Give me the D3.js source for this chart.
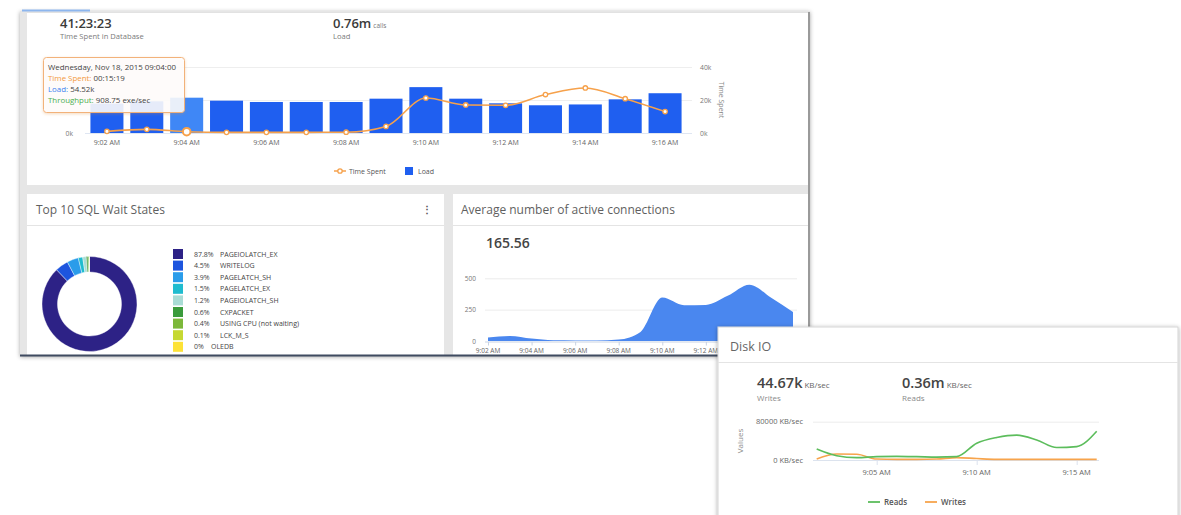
<!DOCTYPE html>
<html><head><meta charset="utf-8">
<script src="https://cdn.jsdelivr.net/npm/d3@7"></script>
<style>
html,body{margin:0;padding:0;background:#fff;}
svg{display:block;font-family:"Open Sans","Noto Sans",sans-serif;}
</style></head>
<body>
<svg id="c" width="1181" height="515"></svg>
<script>
// ---------- DATA ----------
const minutes = ["9:02","9:03","9:04","9:05","9:06","9:07","9:08","9:09","9:10","9:11","9:12","9:13","9:14","9:15","9:16"];
const loadK = [17.8, 19.2, 21.4, 19.6, 18.8, 18.8, 18.8, 20.8, 27.8, 20.8, 18.0, 16.8, 17.3, 20.4, 24.1];
const timeSpentK = [1.0, 2.2, 0.8, 0.4, 0.4, 0.4, 0.5, 4.0, 21.2, 17.0, 16.8, 23.3, 27.3, 20.8, 13.0];
const topTicks = [0, 20, 40];
const loadAxisTicks = [0];
const waitNames = ["PAGEIOLATCH_EX","WRITELOG","PAGELATCH_SH","PAGELATCH_EX","PAGEIOLATCH_SH","CXPACKET","USING CPU (not waiting)","LCK_M_S","OLEDB"];
const waitPct = [87.8, 4.5, 3.9, 1.5, 1.2, 0.6, 0.4, 0.1, 0];
const waitColors = ["#2d2286","#1d55de","#2a9cea","#1fbccf","#a9dcd5","#3a9b3c","#7cb83a","#c6d832","#fde236"];
const connections = [27, 40, 19, 5, 4, 4, 11, 72, 346, 285, 288, 360, 449, 345, 232];
const connTicks = [0, 250, 500];
const connXLabels = ["9:02","9:04","9:06","9:08","9:10","9:12"];
const diskReads = [23000, 9000, 5000, 7000, 7600, 7000, 6000, 7000, 35000, 47000, 52000, 42000, 26000, 28000, 60000];
const diskWrites = [2000, 12500, 12000, 2000, 1400, 1400, 2000, 5000, 3000, 1400, 1400, 1400, 1400, 1400, 1400];
const diskTicks = [0, 80000];
const diskXTicks = ["9:05","9:10","9:15"];

// ---------- HELPERS ----------
const svg = d3.select("#c");
const idx = d3.range(minutes.length);
const defs = svg.append("defs");
const sh = defs.append("filter").attr("id","shadow").attr("x","-5%").attr("y","-5%").attr("width","110%").attr("height","115%");
sh.append("feDropShadow").attr("dx",0).attr("dy",1).attr("stdDeviation",2).attr("flood-color","#000").attr("flood-opacity",0.35);
const sh2 = defs.append("filter").attr("id","tipshadow").attr("x","-10%").attr("y","-10%").attr("width","120%").attr("height","130%");
sh2.append("feDropShadow").attr("dx",0).attr("dy",1).attr("stdDeviation",1.5).attr("flood-color","#e08a3c").attr("flood-opacity",0.35);
function clip(id,x,y,w,h){defs.append("clipPath").attr("id",id).append("rect").attr("x",x).attr("y",y).attr("width",w).attr("height",h);}

svg.append("rect").attr("width",1181).attr("height",515).attr("fill","#fff");

// ---------- WINDOW FRAME ----------
const win = svg.append("g");
win.append("rect").attr("x",20).attr("y",11).attr("width",790).attr("height",345).attr("fill","#e6e6e6").attr("filter","url(#shadow)");
win.append("rect").attr("x",22).attr("y",9.5).attr("width",68).attr("height",2).attr("fill","#8db6ee");
win.append("rect").attr("x",27).attr("y",12).attr("width",781).attr("height",173).attr("fill","#fff");
win.append("line").attr("x1",27).attr("x2",808).attr("y1",12.5).attr("y2",12.5).attr("stroke","#e2e2e2");
win.append("rect").attr("x",27).attr("y",194).attr("width",417).attr("height",161).attr("fill","#fff");
win.append("rect").attr("x",453).attr("y",194).attr("width",355).attr("height",161).attr("fill","#fff");
win.append("line").attr("x1",27).attr("x2",444).attr("y1",225.5).attr("y2",225.5).attr("stroke","#e4e4e4");
win.append("line").attr("x1",453).attr("x2",808).attr("y1",225.5).attr("y2",225.5).attr("stroke","#e4e4e4");
win.append("line").attr("x1",809).attr("x2",809).attr("y1",12).attr("y2",356).attr("stroke","#9a9a9a").attr("stroke-width",2);

// ---------- TOP KPI ----------
const kpiTop = svg.append("g");
kpiTop.append("text").attr("x",60).attr("y",28).attr("font-size",13).attr("font-weight",600).attr("fill","#3a3a3a").text("41:23:23");
kpiTop.append("text").attr("x",60).attr("y",38.5).attr("font-size",7.6).attr("fill","#7a7a7a").text("Time Spent in Database");
const lt = kpiTop.append("text").attr("x",333).attr("y",28).attr("fill","#3a3a3a");
lt.append("tspan").attr("font-size",13).attr("font-weight",600).text("0.76m");
lt.append("tspan").attr("font-size",6.5).attr("fill","#777").attr("dx",2).text("calls");
kpiTop.append("text").attr("x",333).attr("y",38.5).attr("font-size",7.6).attr("fill","#7a7a7a").text("Load");

// ---------- TOP CHART ----------
const xb = d3.scaleBand().domain(minutes).range([87,685]).paddingInner(0.172).paddingOuter(0.086);
const yt = d3.scaleLinear().domain([0,40]).range([133,67]);
const tc = svg.append("g");
tc.selectAll("line.g").data(topTicks).join("line").attr("x1",85).attr("x2",692)
  .attr("y1",d=>yt(d)+0.5).attr("y2",d=>yt(d)+0.5).attr("stroke",d=>d===0?"#dfe6f2":"#eeeeee");
tc.selectAll("text.r").data(topTicks).join("text").attr("x",700).attr("y",d=>yt(d)+2.5)
  .attr("font-size",6.8).attr("fill","#777").text(d=>d+"k");
tc.selectAll("text.l").data(loadAxisTicks).join("text").attr("x",73).attr("y",d=>yt(d)+2.5).attr("text-anchor","end")
  .attr("font-size",6.8).attr("fill","#777").text(d=>d+"k");
tc.append("text").attr("transform","translate(719,100) rotate(90)").attr("text-anchor","middle")
  .attr("font-size",7).attr("fill","#888").text("Time Spent");
tc.selectAll("rect.bar").data(idx).join("rect").attr("class","bar")
  .attr("x",i=>xb(minutes[i])).attr("width",xb.bandwidth())
  .attr("y",i=>yt(loadK[i])).attr("height",i=>yt(0)-yt(loadK[i]))
  .attr("fill",i=>i===2?"#3f87f6":"#1f5ff0");
tc.selectAll("text.x").data(idx.filter(i=>i%2===0)).join("text")
  .attr("x",i=>xb(minutes[i])+xb.bandwidth()/2).attr("y",145).attr("text-anchor","middle")
  .attr("font-size",7).attr("fill","#666").text(i=>minutes[i]+" AM");
const lineT = d3.line().x(i=>xb(minutes[i])+xb.bandwidth()/2).y(i=>yt(timeSpentK[i])).curve(d3.curveMonotoneX);
tc.append("path").attr("d",lineT(idx)).attr("fill","none").attr("stroke","#f6a14b").attr("stroke-width",1.6);
tc.selectAll("circle").data(idx).join("circle")
  .attr("cx",i=>xb(minutes[i])+xb.bandwidth()/2).attr("cy",i=>yt(timeSpentK[i]))
  .attr("r",i=>i===2?3.8:2.2).attr("fill","#fff").attr("stroke","#f6a14b").attr("stroke-width",i=>i===2?2:1.3);
// legend
const lg = svg.append("g");
lg.append("line").attr("x1",334).attr("x2",346).attr("y1",171).attr("y2",171).attr("stroke","#f6a14b").attr("stroke-width",1.5);
lg.append("circle").attr("cx",340).attr("cy",171).attr("r",2.2).attr("fill","#fff").attr("stroke","#f6a14b").attr("stroke-width",1.3);
lg.append("text").attr("x",349).attr("y",173.5).attr("font-size",7).attr("fill","#555").text("Time Spent");
lg.append("rect").attr("x",405).attr("y",167).attr("width",8).attr("height",8).attr("fill","#1f5ff0");
lg.append("text").attr("x",418).attr("y",173.5).attr("font-size",7).attr("fill","#555").text("Load");
// tooltip
const tip = svg.append("g");
tip.append("rect").attr("x",43.5).attr("y",57.5).attr("width",141).attr("height",55).attr("rx",3)
  .attr("fill","#fff").attr("fill-opacity",0.85).attr("stroke","#f2b27a").attr("stroke-width",1).attr("filter","url(#tipshadow)");
const tipLines = [["","Wednesday, Nov 18, 2015 09:04:00","#555"],["Time Spent: ","00:15:19","#f39a3c"],["Load: ","54.52k","#3d7ff0"],["Throughput: ","908.75 exe/sec","#4caf50"]];
tipLines.forEach((l,k)=>{
  const t = tip.append("text").attr("x",48).attr("y",70+k*11).attr("font-size",7.9).attr("fill","#444");
  if(l[0]) t.append("tspan").attr("fill",l[2]).text(l[0]);
  t.append("tspan").text(l[1]);
});

// ---------- TOP 10 SQL WAIT STATES ----------
clip("cp1",27,194,417,161);
const p1 = svg.append("g").attr("clip-path","url(#cp1)");
p1.append("text").attr("x",36).attr("y",214).attr("font-size",12).attr("fill","#5f5f5f").text("Top 10 SQL Wait States");
p1.append("text").attr("x",427).attr("y",213).attr("text-anchor","middle").attr("font-size",10).attr("font-weight",700).attr("fill","#555").text("⋮");
const pie = d3.pie().sort(null).value(d=>d)(waitPct);
const arc = d3.arc().innerRadius(32).outerRadius(47.5);
p1.append("g").attr("transform","translate(89.5,304)").selectAll("path").data(pie).join("path")
  .attr("d",arc).attr("fill",(d,i)=>waitColors[i]).attr("stroke","#fff").attr("stroke-width",0.4);
const wl = p1.append("g");
waitNames.forEach((n,i)=>{
  const y = 254 + i*11.6;
  wl.append("rect").attr("x",173).attr("y",y-5).attr("width",10).attr("height",10).attr("fill",waitColors[i]);
  wl.append("text").attr("x",194).attr("y",y+2.5).attr("font-size",7).attr("fill","#444").text(waitPct[i]+"%");
  wl.append("text").attr("x",i===8?211:220).attr("y",y+2.5).attr("font-size",7).attr("fill","#444").text(n);
});

// ---------- AVERAGE ACTIVE CONNECTIONS ----------
clip("cp2",453,194,355,161);
const p2 = svg.append("g").attr("clip-path","url(#cp2)");
p2.append("text").attr("x",461).attr("y",214).attr("font-size",12).attr("fill","#5f5f5f").text("Average number of active connections");
p2.append("text").attr("x",486).attr("y",248).attr("font-size",14).attr("font-weight",600).attr("fill","#444").text("165.56");
const xc = d3.scaleLinear().domain([0,minutes.length-1]).range([488,793]);
const yc = d3.scaleLinear().domain([0,500]).range([341,278.3]);
p2.selectAll("line.g").data(connTicks.filter(d=>d>0)).join("line").attr("x1",485).attr("x2",797)
  .attr("y1",d=>yc(d)+0.5).attr("y2",d=>yc(d)+0.5).attr("stroke","#ececec");
p2.selectAll("text.y").data(connTicks).join("text").attr("x",476).attr("y",d=>yc(d)+2.5).attr("text-anchor","end")
  .attr("font-size",6.5).attr("fill","#777").text(d=>d);
const areaC = d3.area().x(i=>xc(i)).y0(yc(0)).y1(i=>yc(connections[i])).curve(d3.curveMonotoneX);
p2.append("path").attr("d",areaC(idx)).attr("fill","#4a87ef");
p2.append("line").attr("x1",485).attr("x2",797).attr("y1",342).attr("y2",342).attr("stroke","#c9d3e3");
p2.selectAll("line.t").data(idx.filter(i=>i%2===0)).join("line").attr("x1",i=>xc(i)+0.5).attr("x2",i=>xc(i)+0.5)
  .attr("y1",342).attr("y2",345.5).attr("stroke","#c9d3e3");
p2.selectAll("text.x").data(connXLabels).join("text").attr("x",d=>xc(minutes.indexOf(d))).attr("y",353)
  .attr("text-anchor","middle").attr("font-size",6.5).attr("fill","#666").text(d=>d+" AM");

// bottom edge of window
svg.append("rect").attr("x",20).attr("y",354.5).attr("width",790).attr("height",2).attr("fill","#3f4b60");

// ---------- DISK IO ----------
svg.append("rect").attr("x",718).attr("y",327).attr("width",460).attr("height",195).attr("fill","#fff")
  .attr("stroke","#d5d5d5").attr("filter","url(#shadow)");
clip("cp3",718,327,460,190);
const p3 = svg.append("g").attr("clip-path","url(#cp3)");
p3.append("text").attr("x",730).attr("y",351).attr("font-size",12.5).attr("fill","#666").text("Disk IO");
p3.append("line").attr("x1",718).attr("x2",1178).attr("y1",362.5).attr("y2",362.5).attr("stroke","#e4e4e4");
function kpi(x,val,lab){
  const t = p3.append("text").attr("x",x).attr("y",388).attr("fill","#444");
  t.append("tspan").attr("font-size",14.5).attr("font-weight",600).text(val);
  t.append("tspan").attr("font-size",8).attr("fill","#666").attr("dx",2).text("KB/sec");
  p3.append("text").attr("x",x).attr("y",400.5).attr("font-size",8).attr("fill","#8a8a8a").text(lab);
}
kpi(757,"44.67k","Writes");
kpi(902,"0.36m","Reads");
const xd = d3.scaleLinear().domain([0,minutes.length-1]).range([816.7,1096.7]);
const yd = d3.scaleLinear().domain([0,80000]).range([460,421.7]);
p3.selectAll("line.g").data(diskTicks).join("line").attr("x1",813).attr("x2",1099)
  .attr("y1",d=>yd(d)+0.5).attr("y2",d=>yd(d)+0.5).attr("stroke",d=>d===0?"#dce3ee":"#ececec");
p3.selectAll("text.y").data(diskTicks).join("text").attr("x",803).attr("y",d=>yd(d)+2.5).attr("text-anchor","end")
  .attr("font-size",7.5).attr("fill","#666").text(d=>d+" KB/sec");
p3.append("text").attr("transform","translate(743,441) rotate(-90)").attr("text-anchor","middle")
  .attr("font-size",8).attr("fill","#8a8a8a").text("Values");
p3.selectAll("line.t").data(diskXTicks).join("line").attr("x1",d=>xd(minutes.indexOf(d))+0.5).attr("x2",d=>xd(minutes.indexOf(d))+0.5)
  .attr("y1",460).attr("y2",465).attr("stroke","#dce3ee");
p3.selectAll("text.x").data(diskXTicks).join("text").attr("x",d=>xd(minutes.indexOf(d))).attr("y",474.5)
  .attr("text-anchor","middle").attr("font-size",7.5).attr("fill","#666").text(d=>d+" AM");
const lineD = arr => d3.line().x(i=>xd(i)).y(i=>yd(arr[i])).curve(d3.curveMonotoneX)(idx);
p3.append("path").attr("d",lineD(diskWrites)).attr("fill","none").attr("stroke","#f7a44c").attr("stroke-width",1.6);
p3.append("path").attr("d",lineD(diskReads)).attr("fill","none").attr("stroke","#5cbd5c").attr("stroke-width",1.6);
p3.append("line").attr("x1",868).attr("x2",880).attr("y1",502).attr("y2",502).attr("stroke","#5cbd5c").attr("stroke-width",1.8);
p3.append("text").attr("x",884).attr("y",505).attr("font-size",8).attr("font-weight",600).attr("fill","#555").text("Reads");
p3.append("line").attr("x1",925).attr("x2",937).attr("y1",502).attr("y2",502).attr("stroke","#f7a44c").attr("stroke-width",1.8);
p3.append("text").attr("x",941).attr("y",505).attr("font-size",8).attr("font-weight",600).attr("fill","#555").text("Writes");
</script>
</body></html>
